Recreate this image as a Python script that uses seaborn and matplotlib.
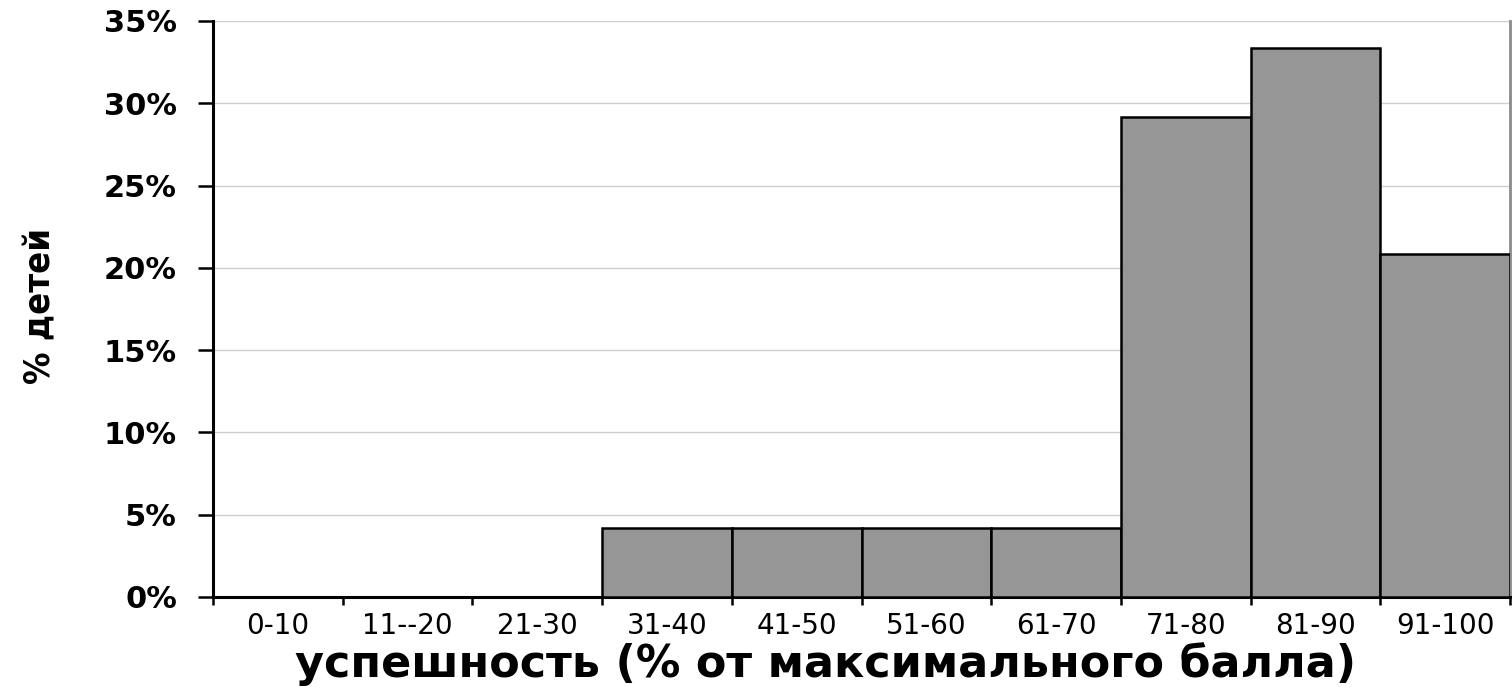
import matplotlib
matplotlib.use("Agg")
import matplotlib.pyplot as plt
from matplotlib.ticker import FixedLocator, FuncFormatter
import seaborn as sns
import pandas as pd

# Score bands and share of children in each band (%)
categories = ["0-10", "11--20", "21-30", "31-40", "41-50",
              "51-60", "61-70", "71-80", "81-90", "91-100"]
shares = [0.0, 0.0, 0.0, 4.17, 4.17, 4.17, 4.17, 29.17, 33.33, 20.83]
y_ticks = [0, 5, 10, 15, 20, 25, 30, 35]

x_title = "успешность (% от максимального балла)"
y_title = "% детей"

sns.set_theme(style="white")
plt.rcParams["font.family"] = ["DejaVu Sans"]
for key in ("text.color", "axes.labelcolor", "xtick.color", "ytick.color"):
    plt.rcParams[key] = "black"

df = pd.DataFrame({"band": categories, "share": shares})

fig = plt.figure(figsize=(15.12, 6.87), dpi=100)
ax = fig.add_axes([213 / 1512, 90 / 687, (1510 - 213) / 1512, (597 - 21) / 687])

sns.barplot(data=df, x="band", y="share", order=categories, color="#969696",
            saturation=1, width=1.0, edgecolor="black", linewidth=1.8, ax=ax,
            zorder=3)

ax.set_xlim(-0.5, len(categories) - 0.5)
ax.set_ylim(0, 35)

# horizontal gridlines
ax.set_yticks(y_ticks)
ax.yaxis.set_major_formatter(FuncFormatter(lambda v, p: f"{int(v)}%"))
ax.grid(axis="y", color="#cfcfcf", linewidth=1.0, zorder=0)
ax.set_axisbelow(True)

# category labels centred under the bars, tick marks on the band edges
ax.xaxis.set_major_locator(FixedLocator(range(len(categories))))
ax.set_xticklabels(categories)
ax.xaxis.set_minor_locator(FixedLocator([i - 0.5 for i in range(len(categories) + 1)]))
ax.tick_params(axis="x", which="major", length=0, pad=11, labelsize=20,
               labelcolor="black")
ax.tick_params(axis="x", which="minor", bottom=True, length=6, width=1.8,
               direction="out", color="black")
ax.tick_params(axis="y", which="major", left=True, length=11, width=1.8,
               direction="out", color="black", pad=15, labelsize=22,
               labelcolor="black")
for lab in ax.get_yticklabels():
    lab.set_fontweight("bold")

for side in ("left", "bottom"):
    ax.spines[side].set_color("black")
    ax.spines[side].set_linewidth(2.2)
ax.spines["top"].set_visible(False)
ax.spines["right"].set_color("#8a8a8a")
ax.spines["right"].set_linewidth(2.0)

ax.set_xlabel("")
ax.set_ylabel("")
fig.text(826 / 1512, 1 - 664 / 687, x_title, ha="center", va="center",
         fontsize=32, fontweight="bold", color="black", family=["DejaVu Sans"])
fig.text(40 / 1512, 1 - 306 / 687, y_title, ha="center", va="center",
         rotation=90, fontsize=26, fontweight="bold", fontstretch="condensed",
         color="black", family=["DejaVu Sans"])

fig.savefig("out.png", dpi=100, facecolor="white")
